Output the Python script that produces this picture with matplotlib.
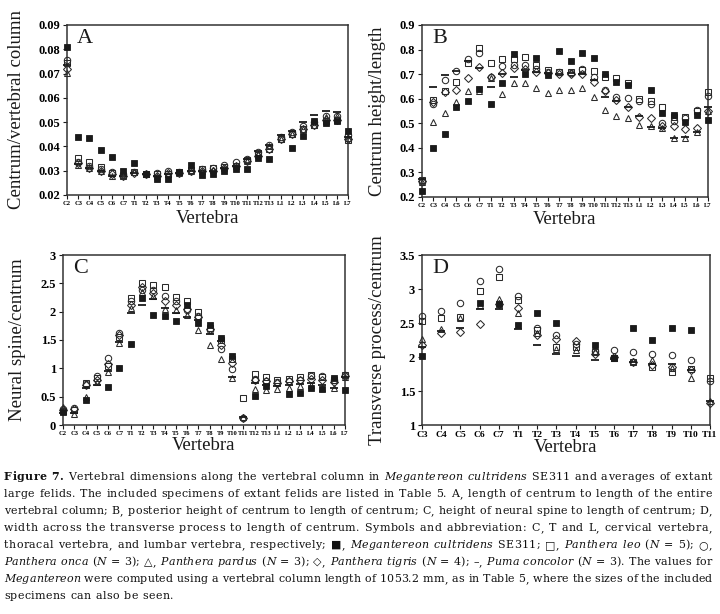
import matplotlib
matplotlib.use('Agg')
import numpy as np
import matplotlib.pyplot as plt

nan = np.nan

vertebrae = ['C2', 'C3', 'C4', 'C5', 'C6', 'C7',
             'T1', 'T2', 'T3', 'T4', 'T5', 'T6', 'T7', 'T8', 'T9', 'T10', 'T11', 'T12', 'T13',
             'L1', 'L2', 'L3', 'L4', 'L5', 'L6', 'L7']
vertebrae_d = ['C3', 'C4', 'C5', 'C6', 'C7', 'T1', 'T2', 'T3', 'T4', 'T5', 'T6', 'T7', 'T8', 'T9', 'T10', 'T11']

# A, centrum / vertebral column
a_meg = [0.081, 0.044, 0.0435, 0.0385, 0.0358, 0.030, 0.033, 0.0286, 0.0265, 0.0266, 0.0294, 0.0324, 0.0282,
         0.0286, 0.030, 0.0306, 0.0307, 0.0351, 0.035, nan, 0.0392, 0.0443, 0.0505, 0.0497, 0.0505, 0.0463]
a_leo = [0.0745, 0.0352, 0.0335, 0.0315, 0.0292, 0.0278, 0.0293, 0.0285, 0.0286, 0.0288, 0.0296, 0.0302, 0.0308,
         0.031, 0.0315, 0.032, 0.0343, 0.0365, 0.039, 0.0432, 0.045, 0.047, 0.049, 0.0505, 0.051, 0.0428]
a_onca = [0.0757, 0.0335, 0.032, 0.0305, 0.0295, 0.0285, 0.0295, 0.0288, 0.029, 0.030, 0.0295, 0.030, 0.0305,
          0.031, 0.0322, 0.0335, 0.035, 0.0375, 0.0405, 0.044, 0.046, 0.0485, 0.050, 0.0525, 0.0525, 0.0445]
a_pardus = [0.0701, 0.0325, 0.031, 0.0298, 0.028, 0.0282, 0.0295, 0.0285, 0.028, 0.0285, 0.029, 0.0298, 0.030,
            0.0302, 0.031, 0.032, 0.034, 0.037, 0.040, 0.043, 0.045, 0.047, 0.049, 0.052, 0.0525, 0.0435]
a_tigris = [0.072, 0.033, 0.031, 0.030, 0.0285, 0.028, 0.029, 0.0285, 0.028, 0.029, 0.029, 0.030, 0.030,
            0.030, 0.031, 0.032, 0.034, 0.036, 0.039, 0.043, 0.045, 0.047, 0.049, 0.051, 0.051, 0.043]
a_puma = [0.0735, 0.0328, 0.031, 0.0298, 0.028, 0.028, 0.0292, 0.0288, 0.028, 0.0287, 0.029, 0.0298, 0.030,
          0.030, 0.031, 0.032, 0.035, 0.038, 0.0405, 0.0445, 0.0465, 0.050, 0.053, 0.0545, 0.054, 0.044]

# B, centrum height / length
b_meg = [0.225, 0.40, 0.455, 0.565, 0.59, 0.64, 0.58, 0.665, 0.78, 0.70, 0.765, 0.695, 0.795,
         0.755, 0.785, 0.765, 0.70, 0.67, 0.655, nan, 0.635, 0.54, 0.535, 0.505, 0.535, 0.515]
b_leo = [0.27, 0.595, 0.63, 0.669, 0.747, 0.808, 0.744, 0.76, 0.76, 0.768, 0.737, 0.717, 0.71,
         0.71, 0.715, 0.713, 0.69, 0.683, 0.665, 0.598, 0.59, 0.565, 0.525, 0.525, 0.55, 0.629]
b_onca = [0.26, 0.58, 0.676, 0.714, 0.76, 0.785, 0.687, 0.735, 0.737, 0.737, 0.72, 0.71, 0.71,
          0.705, 0.72, 0.69, 0.635, 0.606, 0.601, 0.59, 0.58, 0.50, 0.51, 0.52, 0.554, 0.61]
b_pardus = [0.26, 0.507, 0.543, 0.588, 0.631, 0.63, 0.685, 0.619, 0.663, 0.665, 0.642, 0.622, 0.635,
            0.635, 0.642, 0.606, 0.554, 0.531, 0.52, 0.493, 0.49, 0.479, 0.441, 0.441, 0.466, 0.55]
b_tigris = [0.265, 0.585, 0.629, 0.635, 0.683, 0.73, 0.69, 0.706, 0.725, 0.72, 0.71, 0.705, 0.70,
            0.70, 0.70, 0.67, 0.63, 0.595, 0.565, 0.525, 0.52, 0.49, 0.487, 0.476, 0.48, 0.55]
b_puma = [0.275, 0.649, 0.696, 0.714, 0.755, 0.726, 0.649, 0.70, 0.687, 0.715, 0.71, 0.705, 0.70,
          0.705, 0.70, 0.676, 0.608, 0.59, 0.565, 0.531, 0.486, 0.48, 0.441, 0.445, 0.466, 0.565]

# C, neural spine / centrum
c_meg = [0.23, nan, 0.45, nan, 0.665, 1.01, 1.435, 2.25, 1.95, 1.92, 1.835, 2.12, 1.80,
         1.765, 1.53, 1.21, nan, 0.52, 0.69, nan, 0.54, 0.57, 0.645, 0.64, 0.83, 0.615]
c_leo = [0.25, 0.27, 0.74, 0.83, 1.05, 1.55, 2.25, 2.50, 2.47, 2.44, 2.26, 2.18, 1.99,
         1.72, 1.50, 1.17, 0.47, 0.90, 0.84, 0.79, 0.82, 0.85, 0.89, 0.84, 0.80, 0.89]
c_onca = [0.29, 0.30, 0.72, 0.865, 1.18, 1.63, 2.19, 2.38, 2.38, 2.27, 2.18, 2.03, 1.93,
          1.68, 1.35, 0.99, 0.12, 0.82, 0.78, 0.76, 0.78, 0.80, 0.86, 0.865, 0.79, 0.88]
c_pardus = [0.31, 0.19, 0.50, 0.76, 0.93, 1.45, 2.06, 2.35, 2.27, 2.05, 2.03, 1.94, 1.68,
            1.41, 1.16, 0.835, 0.14, 0.63, 0.62, 0.63, 0.66, 0.68, 0.70, 0.66, 0.645, 0.84]
c_tigris = [0.26, 0.28, 0.70, 0.80, 1.07, 1.59, 2.12, 2.44, 2.33, 2.18, 2.12, 2.05, 1.90,
            1.70, 1.42, 1.09, 0.12, 0.80, 0.78, 0.74, 0.78, 0.80, 0.82, 0.80, 0.76, 0.86]
c_puma = [0.22, 0.21, 0.66, 0.71, 0.95, 1.46, 1.97, 2.12, 2.22, 2.06, 1.97, 1.90, 1.86,
          1.60, 1.48, 0.84, 0.14, 0.75, 0.70, 0.68, 0.71, 0.72, 0.74, 0.70, 0.65, 0.85]

# D, transverse process / centrum
d_meg = [2.015, nan, nan, 2.79, 2.78, 2.47, 2.64, 2.50, nan, 2.17, 1.98, 2.42, 2.25, 2.43, 2.39, nan]
d_leo = [2.53, 2.58, 2.59, 2.97, 3.17, 2.84, 2.40, 2.15, 2.15, 2.07, 1.98, 1.92, 1.86, 1.78, 1.83, 1.69]
d_onca = [2.60, 2.68, 2.79, 3.12, 3.29, 2.89, 2.43, 2.32, 2.19, 2.09, 2.11, 2.08, 2.04, 2.03, 1.96, 1.64]
d_pardus = [2.27, 2.41, 2.57, 2.76, 2.85, 2.65, 2.35, 2.12, 2.11, 2.09, 1.99, 1.94, 1.96, 1.84, 1.69, 1.35]
d_tigris = [2.17, 2.35, 2.37, 2.48, 2.78, 2.72, 2.32, 2.26, 2.23, 2.04, 2.00, 1.93, 1.88, 1.85, 1.81, 1.32]
d_puma = [2.15, 2.38, 2.43, 2.70, 2.71, 2.41, 2.17, 2.04, 2.01, 1.95, 1.97, 1.92, 1.90, 1.89, 1.81, 1.36]

a_yticks = [0.02, 0.03, 0.04, 0.05, 0.06, 0.07, 0.08, 0.09]
a_yticklabels = ['0.02', '0.03', '0.04', '0.05', '0.06', '0.07', '0.08', '0.09']
b_yticks = [0.2, 0.3, 0.4, 0.5, 0.6, 0.7, 0.8, 0.9]
b_yticklabels = ['0.2', '0.3', '0.4', '0.5', '0.6', '0.7', '0.8', '0.9']
c_yticks = [0, 0.5, 1, 1.5, 2, 2.5, 3]
c_yticklabels = ['0', '0.5', '1', '1.5', '2', '2.5', '3']
d_yticks = [1, 1.5, 2, 2.5, 3, 3.5]
d_yticklabels = ['1', '1.5', '2', '2.5', '3', '3.5']

plt.rcParams['font.family'] = ['Liberation Serif', 'DejaVu Sans']

W, H = 720, 614
fig = plt.figure(figsize=(W / 100, H / 100), dpi=100)
fig.patch.set_facecolor('white')

ink = '#1a1a1a'
open_kw = dict(mfc='none', mec='#2a2a2a', mew=0.75)
styles = [
  dict(marker='s', ms=4.6, **open_kw),
  dict(marker='o', ms=4.6, **open_kw),
  dict(marker='^', ms=4.8, **open_kw),
  dict(marker='D', ms=3.6, **open_kw),
  dict(marker='_', ms=5.5, mec=ink, mew=1.3),
  dict(marker='s', ms=4.6, mfc=ink, mec=ink, mew=0.6),
]


def px_axes(left, top, right, bottom):
  return fig.add_axes([left / W, 1 - bottom / H, (right - left) / W, (bottom - top) / H])


def panel(ax, labels, series, ylim, yticks, yticklabels, ylabel, letter, xfs, ylab_x, xlab_y):
  x = np.arange(len(labels))
  for vals, st in zip(series, styles):
    ax.plot(x, vals, linestyle='none', clip_on=False, zorder=3, **st)
  ax.set_xlim(0, len(labels) - 1)
  ax.set_ylim(*ylim)
  ax.set_xticks(x)
  ax.set_xticklabels(labels, fontsize=xfs, fontweight='bold')
  ax.set_yticks(yticks)
  ax.set_yticklabels(yticklabels, fontsize=9, fontweight='bold')
  ax.tick_params(direction='out', length=3, width=0.8, color=ink, top=False, right=False)
  ax.tick_params(axis='x', pad=1.5)
  ax.tick_params(axis='y', pad=2)
  for s in ax.spines.values():
    s.set_linewidth(1.1)
    s.set_color('#333333')
  ax.text(0.035, 0.975, letter, transform=ax.transAxes, fontsize=16, va='top', ha='left', color=ink)
  bb = ax.get_position()
  fig.text(ylab_x / W, bb.y0 + bb.height / 2, ylabel, rotation=90, ha='center', va='center',
           fontsize=13.5, color=ink)
  fig.text(bb.x0 + bb.width / 2, 1 - xlab_y / H, 'Vertebra', ha='center', va='center',
           fontsize=13.5, color=ink)


ax_a = px_axes(67, 25, 348, 195)
panel(ax_a, vertebrae, [a_leo, a_onca, a_pardus, a_tigris, a_puma, a_meg], (0.02, 0.09),
      a_yticks, a_yticklabels, 'Centrum/vertebral column', 'A', 4.7, 17, 219)

ax_b = px_axes(422, 25, 708, 197)
panel(ax_b, vertebrae, [b_leo, b_onca, b_pardus, b_tigris, b_puma, b_meg], (0.2, 0.9),
      b_yticks, b_yticklabels, 'Centrum height/length', 'B', 4.7, 378, 220)

ax_c = px_axes(63, 255, 345, 425)
panel(ax_c, vertebrae, [c_leo, c_onca, c_pardus, c_tigris, c_puma, c_meg], (0, 3),
      c_yticks, c_yticklabels, 'Neural spine/centrum', 'C', 4.7, 18, 446)

ax_d = px_axes(422, 255, 710, 425)
panel(ax_d, vertebrae_d, [d_leo, d_onca, d_pardus, d_tigris, d_puma, d_meg], (1, 3.5),
      d_yticks, d_yticklabels, 'Transverse process/centrum', 'D', 6.8, 378, 448)

# caption, justified with letter spacing
cap_lines = [
  [('Figure 7.', 'b'), (' Vertebral dimensions along the vertebral column in ', 'n'),
   ('Megantereon cultridens', 'i'), (' SE311 and averages of extant', 'n')],
  [('large felids. The included specimens of extant felids are listed in Table 5. A, length of centrum to length of the entire', 'n')],
  [('vertebral column; B, posterior height of centrum to length of centrum; C, height of neural spine to length of centrum; D,', 'n')],
  [('width across the transverse process to length of centrum. Symbols and abbreviation: C, T and L, cervical vertebra,', 'n')],
  [('thoracal vertebra, and lumbar vertebra, respectively; \u25a0, ', 'n'), ('Megantereon cultridens', 'i'),
   (' SE311; \u25a1, ', 'n'), ('Panthera leo', 'i'), (' (', 'n'), ('N', 'i'), (' = 5); \u25cb,', 'n')],
  [('Panthera onca', 'i'), (' (', 'n'), ('N', 'i'), (' = 3); \u25b3, ', 'n'), ('Panthera pardus', 'i'),
   (' (', 'n'), ('N', 'i'), (' = 3); \u25c7, ', 'n'), ('Panthera tigris', 'i'), (' (', 'n'), ('N', 'i'),
   (' = 4); \u2013, ', 'n'), ('Puma concolor', 'i'), (' (', 'n'), ('N', 'i'), (' = 3). The values for', 'n')],
  [('Megantereon', 'i'), (' were computed using a vertebral column length of 1053.2 mm, as in Table 5, where the sizes of the included', 'n')],
  [('specimens can also be seen.', 'n')],
]
cap_base0, cap_step = 480.5, 16.9
cap_x0, cap_x1 = 4, 712
cap_size = 7.9
cap_family = ['DejaVu Serif', 'DejaVu Sans']
renderer = fig.canvas.get_renderer()


def cap_props(style):
  return dict(fontsize=cap_size, family=cap_family, color='#111111',
              fontweight='bold' if style == 'b' else 'normal',
              fontstyle='italic' if style == 'i' else 'normal')


def ink_width(s, style):
  t = fig.text(0, 0, s, **cap_props(style))
  w = t.get_window_extent(renderer).width
  t.remove()
  return w


adv_cache = {}


def advance(c, style):
  key = (c, style)
  if key not in adv_cache:
    adv_cache[key] = ink_width('x' + c + 'x', style) - ink_width('xx', style)
  return adv_cache[key]


space_weight = 2.5
tracks = []
for i, line in enumerate(cap_lines):
  chars = [(c, st) for text, st in line for c in text]
  natural = sum(advance(c, st) for c, st in chars)
  weights = [space_weight if c == ' ' else 1.0 for c, st in chars[:-1]]
  if i < len(cap_lines) - 1:
    track = (cap_x1 - cap_x0 - natural) / sum(weights)
    tracks.append(track)
  else:
    track = float(np.median(tracks))
  x = cap_x0
  y = 1 - (cap_base0 + i * cap_step) / H
  for (c, st), wt in zip(chars, weights + [0]):
    if c != ' ':
      fig.text(x / W, y, c, ha='left', va='baseline', **cap_props(st))
    x += advance(c, st) + wt * track

fig.savefig('out.png', dpi=100, facecolor='white')
